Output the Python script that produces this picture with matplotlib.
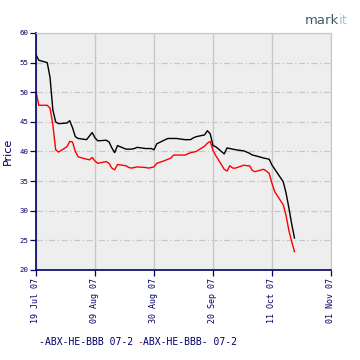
import matplotlib
matplotlib.use("Agg")
import matplotlib.pyplot as plt
import numpy as np
import pandas as pd

# ABX index prices, business days from 19 Jul 07
dates = pd.to_datetime([
    "2007-07-19", "2007-07-20",
    "2007-07-23", "2007-07-24", "2007-07-25", "2007-07-26", "2007-07-27",
    "2007-07-30", "2007-07-31", "2007-08-01", "2007-08-02", "2007-08-03",
    "2007-08-06", "2007-08-07", "2007-08-08", "2007-08-09", "2007-08-10",
    "2007-08-13", "2007-08-14", "2007-08-15", "2007-08-16", "2007-08-17",
    "2007-08-20", "2007-08-21", "2007-08-22", "2007-08-23", "2007-08-24",
    "2007-08-27", "2007-08-28", "2007-08-29", "2007-08-30", "2007-08-31",
    "2007-09-03", "2007-09-04", "2007-09-05", "2007-09-06", "2007-09-07",
    "2007-09-10", "2007-09-11", "2007-09-12", "2007-09-13", "2007-09-14",
    "2007-09-17", "2007-09-18", "2007-09-19", "2007-09-20", "2007-09-21",
    "2007-09-24", "2007-09-25", "2007-09-26", "2007-09-27", "2007-09-28",
    "2007-10-01", "2007-10-02", "2007-10-03", "2007-10-04", "2007-10-05",
    "2007-10-08", "2007-10-09", "2007-10-10", "2007-10-11", "2007-10-12",
    "2007-10-15", "2007-10-16", "2007-10-17", "2007-10-18", "2007-10-19",
])

bbb = [
    56.3, 55.4,
    55.0, 52.5, 47.0, 45.0, 44.7,
    44.8, 45.2, 44.0, 42.5, 42.2,
    42.0, 42.6, 43.2, 42.3, 41.8,
    41.9, 41.6, 40.6, 39.8, 41.0,
    40.4, 40.4, 40.4, 40.5, 40.7,
    40.5, 40.5, 40.5, 40.3, 41.3,
    42.0, 42.2, 42.2, 42.2, 42.2,
    42.0, 42.0, 42.0, 42.3, 42.5,
    42.8, 43.5, 43.0, 41.0, 40.8,
    39.6, 40.6, 40.5, 40.4, 40.3,
    40.1, 39.9, 39.7, 39.4, 39.3,
    38.9, 38.8, 38.7, 37.7, 37.0,
    34.9, 33.0, 30.5, 27.8, 25.4,
]

bbb_minus = [
    50.1, 47.8,
    47.8, 47.3, 44.5, 40.3, 39.9,
    40.8, 41.7, 41.6, 40.0, 39.1,
    38.7, 38.6, 39.0, 38.4, 38.0,
    38.3, 38.0, 37.2, 36.9, 37.8,
    37.6, 37.3, 37.2, 37.3, 37.4,
    37.3, 37.2, 37.3, 37.4, 38.0,
    38.5, 38.7, 38.9, 39.4, 39.4,
    39.4, 39.6, 39.8, 39.9, 40.0,
    40.9, 41.4, 41.7, 40.2, 39.3,
    37.0, 36.7, 37.6, 37.2, 37.2,
    37.7, 37.6, 37.6, 36.8, 36.6,
    37.0, 36.7, 36.3, 34.6, 33.2,
    31.0, 29.2, 26.7, 24.8, 23.1,
]

tick_dates = pd.to_datetime(["2007-07-19", "2007-08-09", "2007-08-30",
                             "2007-09-20", "2007-10-11", "2007-11-01"])
tick_labels = ["19 Jul 07", "09 Aug 07", "30 Aug 07",
               "20 Sep 07", "11 Oct 07", "01 Nov 07"]

navy = "#000066"
grid = "#c8c8c8"
mono = "DejaVu Sans Mono"

fig = plt.figure(figsize=(3.6, 3.6), dpi=100)
ax = fig.add_axes([36 / 360, 90 / 360, 295 / 360, 237 / 360])
ax.set_facecolor("#eeeeee")

ax.plot(dates, bbb, color="black", lw=1.0)
ax.plot(dates, bbb_minus, color="red", lw=1.0)

ax.set_xlim(tick_dates[0], tick_dates[-1])
ax.set_ylim(20, 60)
ax.set_yticks(np.arange(20, 61, 5))
ax.set_xticks(tick_dates)
ax.set_xticklabels(tick_labels, rotation=90, family=mono,
                   fontsize=6.0, color=navy)
ax.set_yticklabels([str(v) for v in range(20, 61, 5)],
                   family=mono, fontsize=5.3, color=navy)

ax.yaxis.grid(True, color=grid, ls=(0, (5, 2, 1, 2)), lw=0.9)
ax.xaxis.grid(True, color=grid, ls="-", lw=1.0)
ax.set_axisbelow(True)

ax.tick_params(axis="both", color=navy, length=4, width=0.9, pad=1.5)
for s in ["left", "bottom"]:
    ax.spines[s].set_color(navy)
    ax.spines[s].set_linewidth(1.2)
for s in ["top", "right"]:
    ax.spines[s].set_color(grid)
    ax.spines[s].set_linewidth(0.9)

fig.text(0.008, 0.58, "Price", rotation=90, color=navy, fontsize=8,
         ha="left", va="center")

# legend row
ly = 1 - 342 / 360
fig.text(38 / 360, ly, "-", color="black", fontsize=7, family=mono, va="center")
fig.text(45 / 360, ly, "ABX-HE-BBB 07-2", color=navy, fontsize=7,
         family=mono, va="center")
fig.text(137 / 360, ly, "-", color="red", fontsize=7, family=mono, va="center")
fig.text(143 / 360, ly, "ABX-HE-BBB- 07-2", color=navy, fontsize=7,
         family=mono, va="center")

# markit logo
fig.text(339 / 360, 1 - 20 / 360, "mark", color="#3d5a6c", fontsize=9.5,
         ha="right", va="center")
fig.text(339 / 360, 1 - 20 / 360, "it", color="#9cc8da", fontsize=9.5,
         ha="left", va="center")

fig.savefig("out.png", dpi=100, facecolor="white")
